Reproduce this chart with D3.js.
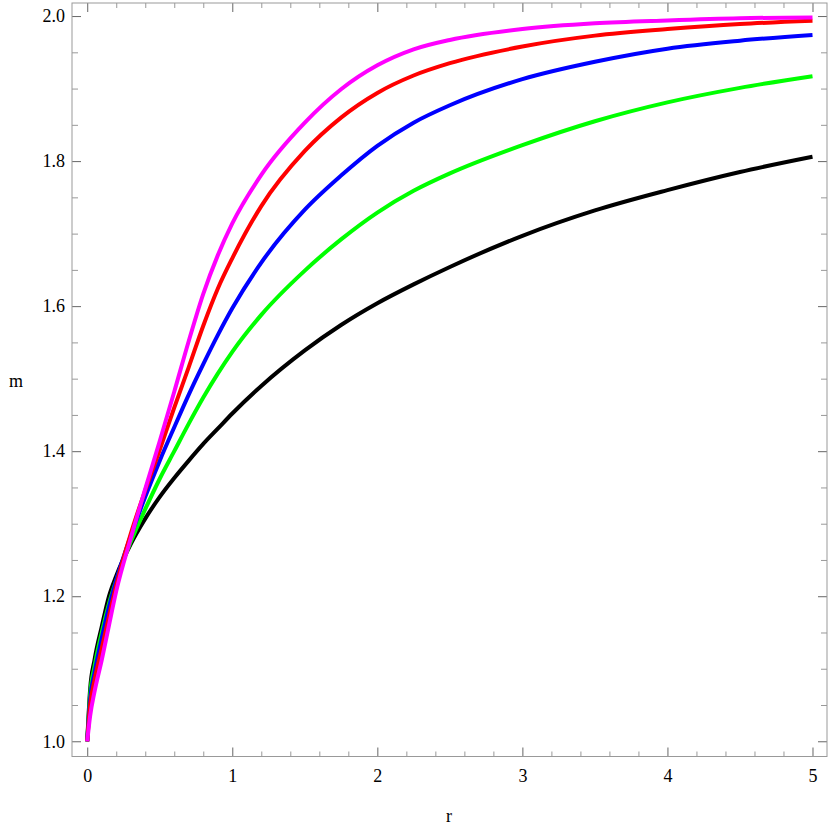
<!DOCTYPE html>
<html>
<head>
<meta charset="utf-8">
<style>
  body { margin: 0; background: #fff; }
  .line { fill: none; stroke-width: 4px; stroke-linejoin: round; }
  text { font-family: "Liberation Serif", "Times New Roman", serif; fill: #000; }
</style>
</head>
<body>
<svg width="830" height="827"></svg>
<script src="https://cdn.jsdelivr.net/npm/d3@7"></script>
<script>
// r values shared by every curve
var rValues = [0, 0.02, 0.05, 0.1, 0.15, 0.2, 0.3, 0.4, 0.5, 0.6, 0.7, 0.8, 0.9, 1.0, 1.2, 1.5, 1.75, 2.0, 2.25, 2.5, 3.0, 3.5, 4.0, 4.5, 5.0];

// m values
var blackM   = [1, 1.072, 1.112, 1.158, 1.200, 1.228, 1.272, 1.307, 1.337, 1.363, 1.387, 1.410, 1.431, 1.452, 1.490, 1.539, 1.574, 1.604, 1.630, 1.654, 1.697, 1.732, 1.760, 1.785, 1.806];
var greenM   = [1, 1.065, 1.103, 1.150, 1.190, 1.222, 1.275, 1.320, 1.362, 1.400, 1.438, 1.474, 1.507, 1.537, 1.588, 1.649, 1.692, 1.729, 1.759, 1.783, 1.822, 1.855, 1.881, 1.901, 1.917];
var blueM    = [1, 1.058, 1.094, 1.142, 1.185, 1.222, 1.283, 1.337, 1.387, 1.433, 1.478, 1.520, 1.560, 1.597, 1.660, 1.733, 1.780, 1.821, 1.853, 1.877, 1.913, 1.937, 1.955, 1.966, 1.974];
var redM     = [1, 1.050, 1.084, 1.128, 1.172, 1.215, 1.286, 1.346, 1.402, 1.460, 1.516, 1.573, 1.624, 1.666, 1.738, 1.814, 1.860, 1.894, 1.918, 1.935, 1.958, 1.973, 1.982, 1.989, 1.9935];
var magentaM = [1, 1.035, 1.068, 1.112, 1.160, 1.207, 1.280, 1.348, 1.414, 1.482, 1.552, 1.617, 1.670, 1.714, 1.781, 1.853, 1.899, 1.932, 1.954, 1.967, 1.982, 1.990, 1.994, 1.997, 1.998];

var seriesNames  = ["black", "green", "blue", "red", "magenta"];
var seriesValues = [blackM, greenM, blueM, redM, magentaM];
var seriesColors = ["#000000", "#00ff00", "#0000ff", "#ff0000", "#ff00ff"];

var xMajor = [0, 1, 2, 3, 4, 5];
var yMajor = [1.0, 1.2, 1.4, 1.6, 1.8, 2.0];

var svg = d3.select("svg");
var frame = { left: 72, right: 827, top: 3, bottom: 756.5 };

var x = d3.scaleLinear().domain([-0.105, 5.1]).range([frame.left, frame.right]);
var y = d3.scaleLinear().domain([0.979, 2.018]).range([frame.bottom, frame.top]);

var xMinor = d3.range(0, 5.01, 0.2).filter(function (v) { return Math.abs(v - Math.round(v)) > 1e-6; });
var yMinor = d3.range(1.0, 2.001, 0.05).filter(function (v) { return Math.abs(v * 5 - Math.round(v * 5)) > 1e-6; });

function styleAxis(g, color) {
    g.select(".domain").remove();
    g.selectAll(".tick line").attr("stroke", color);
    g.selectAll(".tick text").style("font-size", "18px").attr("fill", "#000");
}

// minor ticks, all four sides
svg.append("g").attr("transform", "translate(0," + frame.bottom + ")")
    .call(d3.axisBottom(x).tickValues(xMinor).tickSize(-5).tickFormat(""))
    .call(styleAxis, "#999");
svg.append("g").attr("transform", "translate(0," + frame.top + ")")
    .call(d3.axisTop(x).tickValues(xMinor).tickSize(-5).tickFormat(""))
    .call(styleAxis, "#999");
svg.append("g").attr("transform", "translate(" + frame.left + ",0)")
    .call(d3.axisLeft(y).tickValues(yMinor).tickSize(-6).tickFormat(""))
    .call(styleAxis, "#999");
svg.append("g").attr("transform", "translate(" + frame.right + ",0)")
    .call(d3.axisRight(y).tickValues(yMinor).tickSize(-6).tickFormat(""))
    .call(styleAxis, "#999");

// major ticks, labels on left and bottom
svg.append("g").attr("transform", "translate(0," + frame.bottom + ")")
    .call(d3.axisBottom(x).tickValues(xMajor).tickSize(-9).tickPadding(13).tickFormat(d3.format("d")))
    .call(styleAxis, "#666");
svg.append("g").attr("transform", "translate(0," + frame.top + ")")
    .call(d3.axisTop(x).tickValues(xMajor).tickSize(-9).tickFormat(""))
    .call(styleAxis, "#666");
svg.append("g").attr("transform", "translate(" + frame.left + ",0)")
    .call(d3.axisLeft(y).tickValues(yMajor).tickSize(-9).tickPadding(7).tickFormat(d3.format(".1f")))
    .call(styleAxis, "#666");
svg.append("g").attr("transform", "translate(" + frame.right + ",0)")
    .call(d3.axisRight(y).tickValues(yMajor).tickSize(-9).tickFormat(""))
    .call(styleAxis, "#666");

// frame
svg.append("rect")
    .attr("x", frame.left).attr("y", frame.top)
    .attr("width", frame.right - frame.left).attr("height", frame.bottom - frame.top)
    .attr("fill", "none").attr("stroke", "#999").attr("stroke-width", 1);

var line = d3.line()
    .curve(d3.curveMonotoneX)
    .x(function (d) { return x(d.r); })
    .y(function (d) { return y(d.m); });

var curves = seriesNames.map(function (name, i) {
    return {
        name: name,
        color: seriesColors[i],
        values: rValues.map(function (r, j) { return { r: r, m: seriesValues[i][j] }; })
    };
});

svg.append("g").selectAll("path")
    .data(curves)
    .enter().append("path")
    .attr("class", "line")
    .attr("d", function (d) { return line(d.values); })
    .style("stroke", function (d) { return d.color; });

// axis titles
svg.append("text")
    .attr("x", 16).attr("y", 381)
    .attr("text-anchor", "middle").attr("dy", "0.32em")
    .style("font-size", "18px")
    .text("m");
svg.append("text")
    .attr("x", 449).attr("y", 822)
    .attr("text-anchor", "middle")
    .style("font-size", "18px")
    .text("r");
</script>
</body>
</html>
